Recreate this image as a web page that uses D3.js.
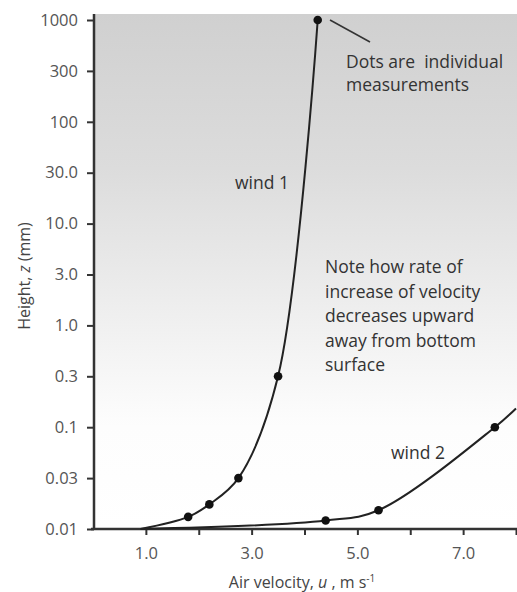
<!DOCTYPE html>
<meta charset="utf-8">
<head>
<style>
body { margin: 0; background: #fff; }
svg { display: block; font-family: "Open Sans", sans-serif; }
.axis path, .axis line { stroke: #333; }
.axis text { fill: #555; font-size: 16.5px; font-family: "Open Sans", sans-serif; }
.note { fill: #333; font-size: 17.5px; white-space: pre; }
.curve { fill: none; stroke: #222; stroke-width: 2; }
.dot { fill: #111; }
</style>
</head>
<body>
<svg width="517" height="592"></svg>
<script src="https://d3js.org/d3.v7.min.js"></script>
<script>

// tick labels on the height axis (equal spacing, half-decade steps)
var yTicks = [1000, 300, 100, 30, 10, 3, 1, 0.3, 0.1, 0.03, 0.01];
var yLabels = ["1000", "300", "100", "30.0", "10.0", "3.0", "1.0", "0.3", "0.1", "0.03", "0.01"];

// velocity ticks, only odd ones labelled
var xTicks = [1, 2, 3, 4, 5, 6, 7, 8];
var xLabels = {1: "1.0", 3: "3.0", 5: "5.0", 7: "7.0"};

// wind 1 profile (first point is the curve start, the rest are dots)
var wind1U = [0.9, 1.8, 2.2, 2.75, 3.5, 4.25];
var wind1Z = [0.01, 0.013, 0.017, 0.03, 0.3, 1000];

// wind 2 profile (first and last points are curve ends, middle are dots)
var wind2U = [0.9, 4.4, 5.4, 7.6, 8.0];
var wind2Z = [0.01, 0.012, 0.015, 0.1, 0.15];

var svg = d3.select("svg"),
    plotL = 94, plotR = 517, plotT = 20, plotB = 529;

var defs = svg.append("defs");
var grad = defs.append("linearGradient")
    .attr("id", "bg").attr("x1", 0).attr("y1", 0).attr("x2", 0).attr("y2", 1);
grad.append("stop").attr("offset", "0").attr("stop-color", "#d0d0d0");
grad.append("stop").attr("offset", "0.3").attr("stop-color", "#dcdcdc");
grad.append("stop").attr("offset", "0.6").attr("stop-color", "#f0f0f0");
grad.append("stop").attr("offset", "0.8").attr("stop-color", "#fdfdfd");
grad.append("stop").attr("offset", "1").attr("stop-color", "#ffffff");

svg.append("rect")
    .attr("x", plotL).attr("y", 14)
    .attr("width", plotR - plotL).attr("height", plotB - 14)
    .attr("fill", "url(#bg)");

var x = d3.scaleLinear().domain([0, 8]).range([93, 516]);

var yIdx = d3.scalePoint().domain(yLabels).range([plotT, plotB]);
var yLog = d3.scaleLinear()
    .domain(yTicks.map(Math.log10))
    .range(yLabels.map(function(d) { return yIdx(d); }));
function y(v) { return yLog(Math.log10(v)); }

// axes
var yAxis = svg.append("g")
    .attr("class", "axis")
    .attr("transform", "translate(" + plotL + ",0)")
    .call(d3.axisLeft(yIdx).tickSize(7).tickPadding(9));
yAxis.select(".domain").attr("d", "M0,14V" + plotB).style("stroke-width", 2.5);
yAxis.selectAll(".tick line").style("stroke-width", 2);

var xAxis = svg.append("g")
    .attr("class", "axis")
    .attr("transform", "translate(0," + plotB + ")")
    .call(d3.axisBottom(x).tickValues(xTicks)
        .tickFormat(function(d) { return xLabels[d] || ""; })
        .tickSize(6).tickPadding(12));
xAxis.select(".domain").attr("d", "M91,0H517").style("stroke-width", 2.5);
xAxis.selectAll(".tick line").style("stroke-width", 2);

// axis titles
svg.append("text")
    .attr("class", "note")
    .attr("transform", "translate(30,276) rotate(-90)")
    .attr("text-anchor", "middle")
    .style("font-size", "16px")
    .style("fill", "#444")
    .html("Height, <tspan font-style='italic'>z</tspan> (mm)");

svg.append("text")
    .attr("class", "note")
    .attr("x", 302).attr("y", 588)
    .attr("text-anchor", "middle")
    .style("font-size", "16px")
    .style("fill", "#444")
    .html("Air velocity, <tspan font-style='italic'>u</tspan> , m s<tspan dy='-6' font-size='10px'>-1</tspan>");

// curves
var line = d3.line()
    .x(function(d) { return x(d[0]); })
    .y(function(d) { return y(d[1]); })
    .curve(d3.curveCatmullRom.alpha(0.5));

var w1 = wind1U.map(function(u, i) { return [u, wind1Z[i]]; });
var w2 = wind2U.map(function(u, i) { return [u, wind2Z[i]]; });

svg.append("path").attr("class", "curve").attr("d", line(w2));
svg.append("path").attr("class", "curve").attr("d", line(w1));

var dots = w1.slice(1).concat(w2.slice(1, 4));
svg.selectAll(".dot")
  .data(dots)
  .enter().append("circle")
    .attr("class", "dot")
    .attr("cx", function(d) { return x(d[0]); })
    .attr("cy", function(d) { return y(d[1]); })
    .attr("r", 4.3);

// annotations
svg.append("line")
    .attr("x1", 330).attr("y1", 20).attr("x2", 370).attr("y2", 42)
    .attr("stroke", "#333").attr("stroke-width", 1.5);

function note(lines, x0, y0, dy) {
  var t = svg.append("text").attr("class", "note");
  lines.forEach(function(s, i) {
    t.append("tspan").attr("x", x0).attr("y", y0 + i * dy).text(s);
  });
}

note(["Dots are  individual", "measurements"], 346, 68, 23);
note(["wind 1"], 235, 189, 0);
note(["Note how rate of", "increase of velocity", "decreases upward", "away from bottom", "surface"], 325, 273, 24.5);
note(["wind 2"], 391, 459, 0);

</script>
</body>
</html>
